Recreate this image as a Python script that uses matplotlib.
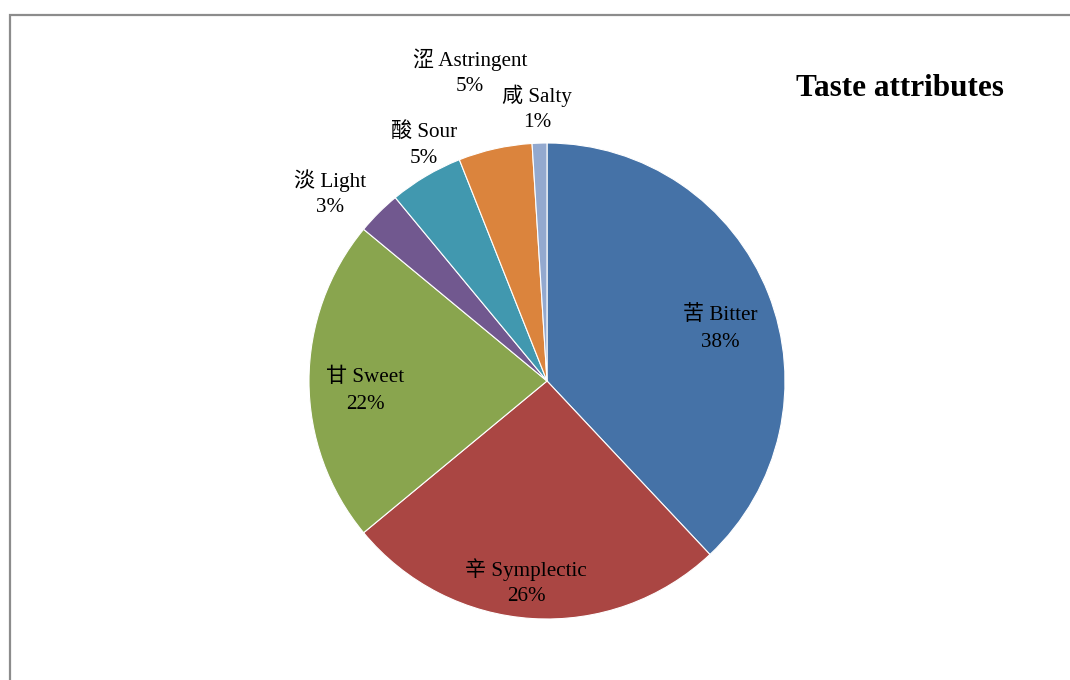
import matplotlib.pyplot as plt
from matplotlib.patches import Rectangle

# taste attribute shares (%), clockwise from 12 o'clock
tastes_cn = ["苦", "辛", "甘", "淡", "酸", "涩", "咸"]
tastes_en = ["Bitter", "Symplectic", "Sweet", "Light", "Sour", "Astringent", "Salty"]
shares = [38, 26, 22, 3, 5, 5, 1]

colors = ["#4572A7", "#AA4643", "#89A54E", "#71588F", "#4198AF", "#DB843D", "#93A9CF"]

# label centres in pixel coordinates (x, y from top)
label_pos = [(720, 329), (526, 583), (365, 391), (330, 194),
             (424, 145), (470, 73), (537, 109)]
line_gap = 27  # pixels between name line and percent line

W, H = 1070, 680
fonts = ["Liberation Serif", "Noto Sans CJK SC", "DejaVu Sans"]

fig = plt.figure(figsize=(W / 100, H / 100), dpi=100)
ax = fig.add_axes([0, 0, 1, 1])

# chart area frame (runs off the right and bottom edges)
ax.add_patch(Rectangle((10, -20), W + 50, H - 15 + 20, fill=False,
                       edgecolor="#8c8c8c", lw=1.6, zorder=0))

ax.pie(shares, colors=colors, startangle=90, counterclock=False,
       center=(547, H - 381), radius=238, frame=True,
       wedgeprops=dict(edgecolor="white", linewidth=0.8))
ax.set_xlim(0, W)
ax.set_ylim(0, H)
ax.set_aspect("equal")
ax.axis("off")

for cn, en, pct, (x, y) in zip(tastes_cn, tastes_en, shares, label_pos):
    ax.text(x, H - y + line_gap / 2, f"{cn} {en}", ha="center", va="center",
            fontsize=15.2, family=fonts, color="black")
    ax.text(x, H - y - line_gap / 2, f"{pct}%", ha="center", va="center",
            fontsize=15.2, family=fonts, color="black")

ax.text(900, H - 88, "Taste attributes", ha="center", va="center",
        fontsize=22.5, fontweight="bold", family=fonts)

fig.savefig("out.png", dpi=100)
